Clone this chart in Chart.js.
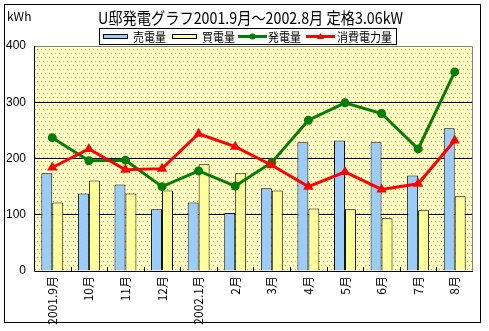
<!DOCTYPE html>
<html><head><meta charset="utf-8">
<script src="https://cdn.jsdelivr.net/npm/chart.js@4/dist/chart.umd.min.js"></script>
<style>html,body{margin:0;padding:0;background:#fff;}#wrap{width:489px;height:331px;position:relative;}</style>
</head><body><div id="wrap"><canvas id="c" width="489" height="331"></canvas></div>
<script>
const title = 'U邸発電グラフ2001.9月～2002.8月 定格3.06kW';
const unitLabel = 'kWh';
const categories = ['2001.9月','10月','11月','12月','2002.1月','2月','3月','4月','5月','6月','7月','8月'];
const seriesNames = ['売電量','買電量','発電量','消費電力量'];
const soldKWh = [174,138,154,110,122,103,147,229,232,229,170,254];
const boughtKWh = [122,161,138,143,190,174,143,111,110,94,108,133];
const generatedKWh = [237,196,197,150,178,151,193,268,299,280,217,354];
const consumedKWh = [184,217,180,182,244,221,188,150,176,145,155,232];
const yTicks = [0,100,200,300,400];

const FONT = '"Noto Sans CJK JP", "Liberation Sans", sans-serif';
const colors = {sold:'#99CCFF', bought:'#FFFF99', gen:'#008000', cons:'#FF0000'};

// plot-area dotted pattern
const pc = document.createElement('canvas'); pc.width = 4; pc.height = 8;
const px = pc.getContext('2d');
px.fillStyle = '#FFFFCC'; px.fillRect(0,0,4,8);
px.fillStyle = '#FF9900'; px.fillRect(1,1,1,1); px.fillRect(3,5,1,1);

const bgPlugin = {
  id:'bg',
  beforeDraw(chart){
    const {ctx, chartArea:a} = chart;
    ctx.save();
    ctx.fillStyle = '#fff'; ctx.fillRect(0,0,chart.width,chart.height);
    ctx.fillStyle = ctx.createPattern(pc,'repeat');
    ctx.fillRect(a.left, a.top, a.right-a.left, a.bottom-a.top);
    ctx.restore();
  },
  afterDatasetsDraw(chart){
    const {ctx, chartArea:a} = chart;
    ctx.save();
    ctx.strokeStyle = '#808080'; ctx.lineWidth = 1;
    ctx.beginPath();
    ctx.moveTo(a.left, a.top+0.5); ctx.lineTo(a.right-0.5, a.top+0.5); ctx.lineTo(a.right-0.5, a.bottom);
    ctx.stroke();
    ctx.strokeStyle = '#000';
    ctx.beginPath();
    ctx.moveTo(a.left+0.5, a.top); ctx.lineTo(a.left+0.5, a.bottom+0.5); ctx.lineTo(a.right, a.bottom+0.5);
    ctx.stroke();
    // category boundary ticks (inside)
    const xs = chart.scales.x;
    const w = xs.getPixelForValue(1) - xs.getPixelForValue(0);
    ctx.beginPath();
    for (let i=1;i<categories.length;i++){
      const x = Math.round(xs.getPixelForValue(i) - w/2)+0.5;
      ctx.moveTo(x, a.bottom); ctx.lineTo(x, a.bottom-4);
    }
    ctx.stroke();
    ctx.restore();
  },
  afterDraw(chart){
    const ctx = chart.ctx;
    ctx.save();
    // outer border
    ctx.strokeStyle = '#000'; ctx.lineWidth = 1;
    ctx.strokeRect(4.5,4.5,476,318);
    // kWh
    ctx.fillStyle = '#000';
    ctx.font = '12px ' + FONT; ctx.textBaseline = 'middle'; ctx.textAlign = 'left';
    ctx.fillText(unitLabel, 7, 16);
    // title
    ctx.font = '16px ' + FONT; ctx.textAlign = 'center';
    ctx.fillText(title, 250.5, 18, 305);
    // legend box
    ctx.strokeRect(99.5, 28.5, 297, 16);
    ctx.font = '12px ' + FONT; ctx.textAlign = 'left';
    const cy = 36.5;
    const items = [
      {type:'bar', color:colors.sold, x:103, tx:133},
      {type:'bar', color:colors.bought, x:172, tx:202},
      {type:'line', color:colors.gen, x:238, tx:268, marker:'circle'},
      {type:'line', color:colors.cons, x:306, tx:337, marker:'tri'}
    ];
    items.forEach((it,i)=>{
      if (it.type==='bar'){
        ctx.fillStyle = it.color; ctx.fillRect(it.x+0.5, 34.5, 24, 4);
        ctx.strokeStyle = '#000'; ctx.strokeRect(it.x+0.5, 34.5, 24, 4);
      } else {
        ctx.strokeStyle = it.color; ctx.lineWidth = 3;
        ctx.beginPath(); ctx.moveTo(it.x, cy); ctx.lineTo(it.x+29, cy); ctx.stroke();
        ctx.fillStyle = it.color;
        const mx = it.x+14.5;
        ctx.beginPath();
        if (it.marker==='circle') ctx.arc(mx, cy, 3, 0, Math.PI*2);
        else { ctx.moveTo(mx, cy-3.5); ctx.lineTo(mx+3.5, cy+2.5); ctx.lineTo(mx-3.5, cy+2.5); ctx.closePath(); }
        ctx.fill();
        ctx.lineWidth = 1;
      }
      ctx.fillStyle = '#000';
      const name = seriesNames[i];
      ctx.fillText(name, it.tx, cy+1, name.length*11);
    });
    ctx.restore();
  }
};

new Chart(document.getElementById('c'), {
  data: {
    labels: categories,
    datasets: [
      {type:'bar', label:seriesNames[0], data:soldKWh, backgroundColor:colors.sold, borderColor:'#000', borderWidth:1, order:3, barPercentage:1, categoryPercentage:0.6},
      {type:'bar', label:seriesNames[1], data:boughtKWh, backgroundColor:colors.bought, borderColor:'#000', borderWidth:1, order:3, barPercentage:1, categoryPercentage:0.6},
      {type:'line', label:seriesNames[2], data:generatedKWh, borderColor:colors.gen, backgroundColor:colors.gen, borderWidth:3, pointStyle:'circle', pointRadius:4.5, pointBorderWidth:0, tension:0, order:2},
      {type:'line', label:seriesNames[3], data:consumedKWh, borderColor:colors.cons, backgroundColor:colors.cons, borderWidth:3, pointStyle:'triangle', pointRadius:6, pointBorderWidth:0, tension:0, order:1}
    ]
  },
  options: {
    responsive:false, animation:false, devicePixelRatio:1,
    layout:{padding:{left:0, right:16, top:46, bottom:0}},
    plugins:{legend:{display:false}, title:{display:false}, tooltip:{enabled:false}},
    scales:{
      x:{
        grid:{display:false, drawTicks:false},
        border:{display:false},
        ticks:{color:'#000', font:{size:12, family:FONT}, minRotation:90, maxRotation:90, padding:5, autoSkip:false},
        afterFit(s){ s.height = 331-271; }
      },
      y:{
        min:0, max:400,
        afterBuildTicks(s){ s.ticks = yTicks.map(v=>({value:v})); },
        grid:{color:(c)=> (c.tick && (c.tick.value===0||c.tick.value===400)) ? 'rgba(0,0,0,0)' : '#000', lineWidth:1, drawTicks:false},
        border:{display:false},
        ticks:{color:'#000', font:{size:12, family:'"Liberation Sans", sans-serif'}, padding:8},
        afterFit(s){ s.width = 34; }
      }
    }
  },
  plugins:[bgPlugin]
});
</script></body></html>
